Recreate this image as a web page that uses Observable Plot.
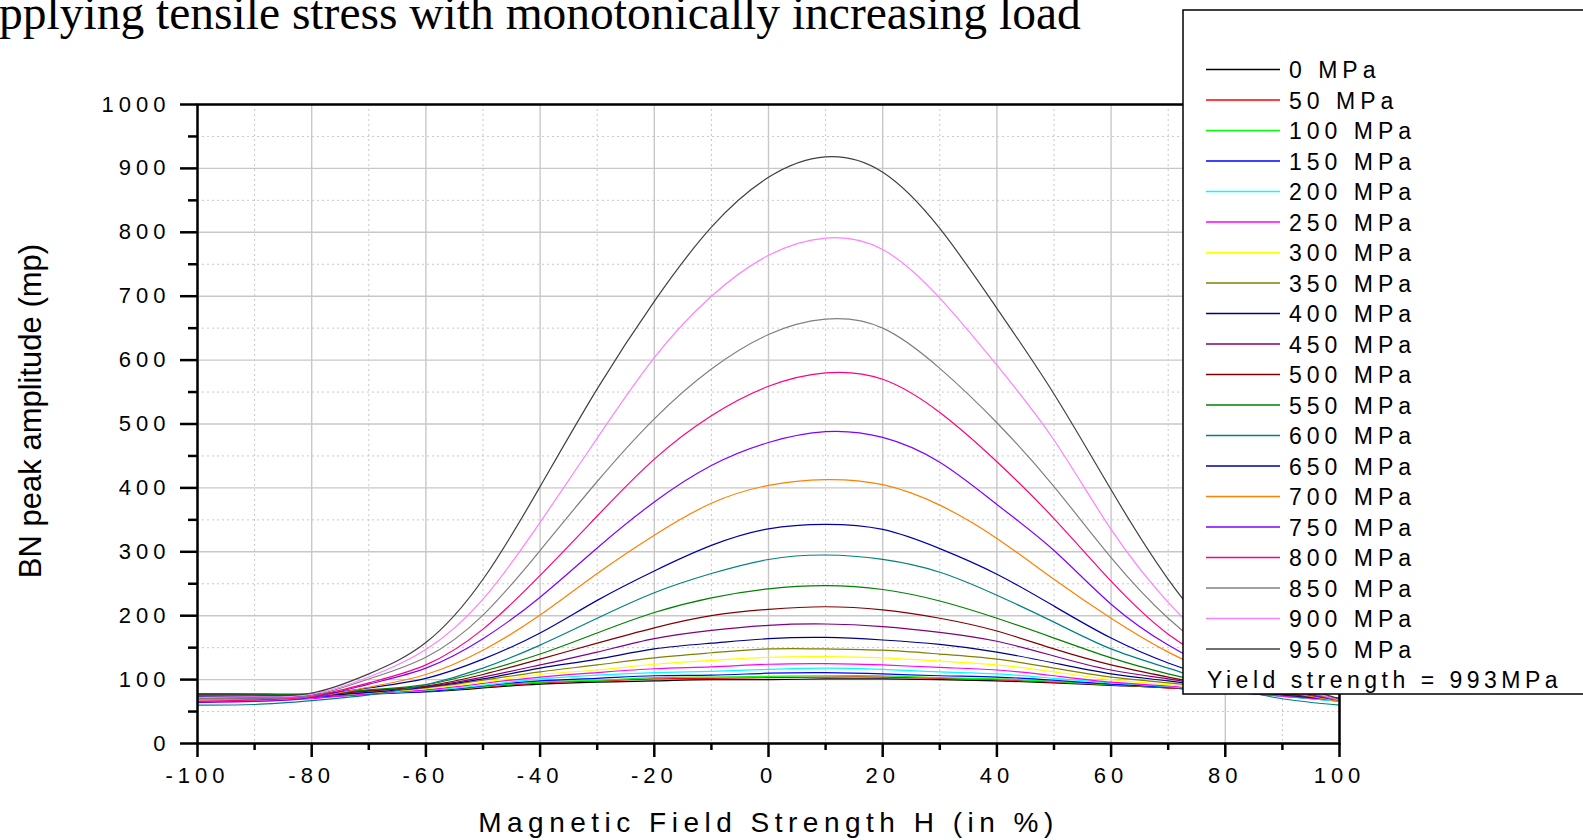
<!DOCTYPE html>
<html><head><meta charset="utf-8">
<script src="https://cdn.jsdelivr.net/npm/d3@7"></script>
<script src="https://cdn.jsdelivr.net/npm/@observablehq/plot@0.6"></script>
<style>
html,body{margin:0;padding:0;background:#fff;}
#wrap{position:relative;width:1583px;height:840px;overflow:hidden;background:#fff;}
#chart{position:absolute;left:0;top:0;}
#overlay{position:absolute;left:0;top:0;}
</style></head>
<body><div id="wrap"><div id="chart"></div><svg id="overlay" width="1583" height="840"></svg></div>
<script>
// ---- data ----
const xValues = [-100,-90,-80,-70,-60,-50,-40,-30,-20,-10,0,10,20,30,40,50,60,70,80,90,100];
const xMajorTicks = [-100,-80,-60,-40,-20,0,20,40,60,80,100];
const xMinorTicks = [-90,-70,-50,-30,-10,10,30,50,70,90];
const yMajorTicks = [0,100,200,300,400,500,600,700,800,900,1000];
const yMinorTicks = [50,150,250,350,450,550,650,750,850,950];

const titleText = "pplying tensile stress with monotonically increasing load";
const xAxisTitle = "Magnetic Field Strength H (in %)";
const yAxisTitle = "BN peak amplitude (mp)";
const yieldNote = "Yield strength = 993MPa";

const stressLabels = ["0 MPa","50 MPa","100 MPa","150 MPa","200 MPa","250 MPa","300 MPa","350 MPa","400 MPa","450 MPa",
  "500 MPa","550 MPa","600 MPa","650 MPa","700 MPa","750 MPa","800 MPa","850 MPa","900 MPa","950 MPa"];
const stressColors = ["#000000","#ff0000","#00ff00","#0000ff","#00ffff","#ff00ff","#ffff00","#808000","#000080","#800080",
  "#800000","#008000","#008080","#0000a8","#ff8000","#8000ff","#ff0080","#808080","#ff80ff","#404040"];

const mpa0   = [76,76,77,79,81,87,93,96,98,100,100,101,101,100,98,95,91,87,81,76,70];
const mpa50  = [77,77,77,80,82,88,95,98,101,102,103,104,104,102,100,96,92,87,82,76,70];
const mpa100 = [78,78,78,80,82,89,96,99,103,104,105,106,106,103,101,97,92,88,82,76,70];
const mpa150 = [70,70,72,77,81,90,98,102,106,107,110,111,109,106,104,99,93,88,81,74,66];
const mpa200 = [75,75,75,78,83,91,101,107,111,113,116,118,116,112,109,102,95,89,82,74,66];
const mpa250 = [65,66,70,78,84,94,104,111,117,120,124,125,123,119,115,106,96,90,82,74,68];
const mpa300 = [74,74,75,79,86,96,108,115,124,130,135,136,134,129,123,112,100,92,84,76,70];
const mpa350 = [76,76,76,80,87,99,112,123,134,142,148,148,146,140,132,118,104,95,85,76,70];
const mpa400 = [72,72,74,80,88,101,118,132,148,157,164,166,162,155,143,126,109,98,86,76,68];
const mpa450 = [76,76,76,82,89,104,123,143,164,177,185,187,183,174,160,137,115,101,87,77,70];
const mpa500 = [77,77,77,83,90,108,132,157,181,200,210,214,209,196,176,148,123,104,88,78,71];
const mpa550 = [78,77,77,84,92,113,140,173,205,228,242,247,241,223,196,165,134,109,90,78,70];
const mpa600 = [60,61,67,76,92,118,154,196,236,266,288,295,288,268,232,190,148,118,90,70,60];
const mpa650 = [73,73,75,87,102,132,173,224,270,310,336,343,335,305,265,215,165,126,98,80,68];
const mpa700 = [68,69,73,88,108,146,201,266,326,376,404,413,405,373,321,257,196,143,105,82,66];
const mpa750 = [64,66,72,93,118,164,229,306,378,435,471,488,479,440,374,302,218,154,110,85,68];
const mpa800 = [66,68,74,95,123,179,263,356,445,513,559,580,570,518,441,352,254,171,120,88,70];
const mpa850 = [70,71,75,101,135,201,302,410,508,586,640,664,650,587,502,402,291,196,130,92,67];
const mpa900 = [72,73,77,104,147,226,346,478,604,700,764,791,773,697,592,475,335,221,140,95,68];
const mpa950 = [76,76,79,109,158,257,402,555,692,808,886,918,894,806,681,547,397,257,155,100,70];

const stressSeries = [mpa0,mpa50,mpa100,mpa150,mpa200,mpa250,mpa300,mpa350,mpa400,mpa450,
  mpa500,mpa550,mpa600,mpa650,mpa700,mpa750,mpa800,mpa850,mpa900,mpa950];

const table = [];
stressSeries.forEach((vals, i) => vals.forEach((v, j) => table.push({x: xValues[j], y: v, s: stressLabels[i]})));

// ---- plot ----
const gridColor = "#c8c8c8";
const plot = Plot.plot({
  width: 1583, height: 840,
  marginLeft: 197, marginRight: 244, marginTop: 104, marginBottom: 97,
  x: {domain: [-100, 100]},
  y: {domain: [0, 1000]},
  color: {domain: stressLabels, range: stressColors},
  style: {fontFamily: "'Liberation Sans', Arial, sans-serif", fontSize: "22px", color: "#000", background: "#fff", overflow: "visible"},
  marks: [
    Plot.gridX(xMinorTicks, {stroke: gridColor, strokeOpacity: 1, strokeWidth: 1, strokeDasharray: "2,3"}),
    Plot.gridY(yMinorTicks, {stroke: gridColor, strokeOpacity: 1, strokeWidth: 1, strokeDasharray: "2,3"}),
    Plot.gridX(xMajorTicks, {stroke: gridColor, strokeOpacity: 1, strokeWidth: 1.4}),
    Plot.gridY(yMajorTicks, {stroke: gridColor, strokeOpacity: 1, strokeWidth: 1.4}),
    Plot.line(table, {x: "x", y: "y", z: "s", stroke: "s", curve: "natural", strokeWidth: 1.2}),
    Plot.axisX(xMinorTicks, {tickSize: 7, strokeWidth: 2.5, tickFormat: () => "", label: null}),
    Plot.axisX(xMajorTicks, {tickSize: 14, tickPadding: 10, strokeWidth: 2.5, fontSize: 22, tickFormat: d => String(d), label: null}),
    Plot.axisY(yMinorTicks, {tickSize: 9, strokeWidth: 2.5, tickFormat: () => "", label: null}),
    Plot.axisY(yMajorTicks, {tickSize: 17, tickPadding: 10, strokeWidth: 2.5, fontSize: 22, tickFormat: d => String(d), label: null}),
    Plot.frame({stroke: "#000", strokeWidth: 2.5}),
    Plot.text([xAxisTitle], {frameAnchor: "bottom", dy: 88, fontSize: 28, text: d => d}),
    Plot.text([yAxisTitle], {frameAnchor: "left", textAnchor: "middle", rotate: -90, dx: -166, dy: -13, fontSize: 31, text: d => d})
  ]
});
document.getElementById("chart").appendChild(plot);

const ps = d3.select(plot);
ps.selectAll('g[aria-label="x-axis tick label"] text, g[aria-label="y-axis tick label"] text').attr("letter-spacing", 5);
ps.selectAll("text").filter(function() { return this.textContent === xAxisTitle; }).attr("letter-spacing", 5.5);

// ---- overlay: title and legend ----
const ov = d3.select("#overlay");
ov.append("text").attr("x", -1).attr("y", 29)
  .attr("font-family", "'Liberation Serif', 'Times New Roman', serif").attr("font-size", 47.5)
  .attr("fill", "#000").text(titleText);

const lg = ov.append("g").attr("font-family", "'Liberation Sans', Arial, sans-serif").attr("font-size", 23).attr("letter-spacing", 5);
lg.append("rect").attr("x", 1183).attr("y", 10).attr("width", 500).attr("height", 684)
  .attr("fill", "#fff").attr("stroke", "#000").attr("stroke-width", 1.5);
stressLabels.forEach((lab, i) => {
  const cy = 69.5 + 30.5 * i;
  lg.append("line").attr("x1", 1206).attr("x2", 1280).attr("y1", cy).attr("y2", cy)
    .attr("stroke", stressColors[i]).attr("stroke-width", 1.5);
  lg.append("text").attr("x", 1289).attr("y", 78 + 30.5 * i).attr("fill", "#000").text(lab);
});
lg.append("text").attr("x", 1207).attr("y", 688).attr("fill", "#000").attr("letter-spacing", 4.5).text(yieldNote);
</script>
</body></html>
